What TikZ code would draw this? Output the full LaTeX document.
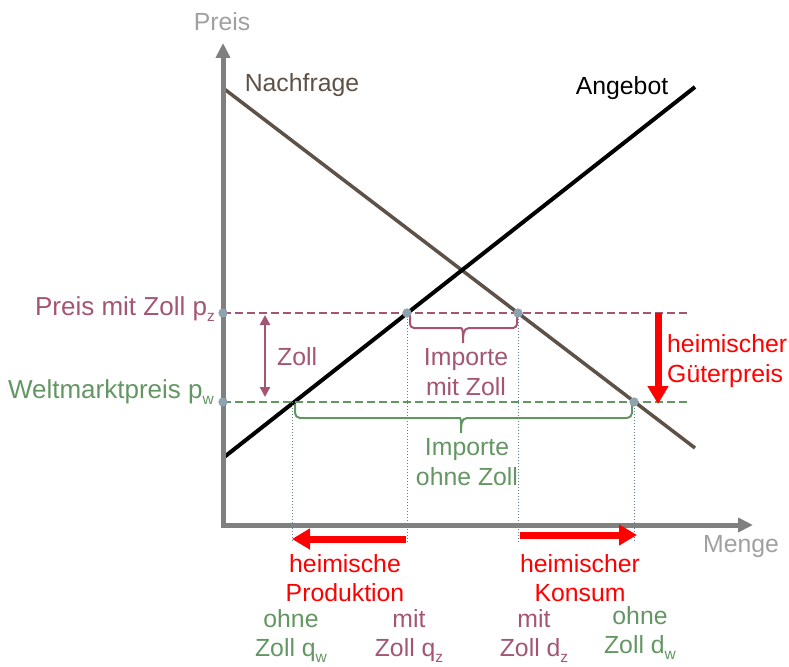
\documentclass[tikz,border=0pt]{standalone}
\usepackage{fontspec}
\setmainfont{Liberation Sans}
\usetikzlibrary{arrows.meta}
\definecolor{mauve}{RGB}{163,85,115}
\definecolor{grn}{RGB}{100,150,100}
\definecolor{axisgray}{RGB}{128,128,128}
\definecolor{lblgray}{RGB}{160,160,160}
\definecolor{dem}{RGB}{94,82,72}
\definecolor{dotc}{RGB}{143,162,176}
\definecolor{vline}{RGB}{95,125,155}
\newcommand\sub[1]{\raisebox{-0.25em}{\fontsize{15.5}{15.5}\selectfont #1}}
\begin{document}
\begin{tikzpicture}[x=1pt,y=-1pt,
  txt/.style={font=\fontsize{24.8}{29.5}\selectfont, inner sep=0pt, align=center},
  lbl/.style={font=\fontsize{24.8}{29}\selectfont, inner sep=0pt},
  axisline/.style={axisgray, line width=5pt, -{Triangle[width=14pt,length=15pt]}},
  hline/.style={dash pattern=on 8pt off 4pt, line width=2pt},
  pt/.style={circle, fill=dotc, inner sep=0pt, minimum size=9pt},
  drop/.style={vline, dotted, line width=1pt},
  redarrow/.style={red, line width=7pt, -{Triangle[width=20pt,length=18pt]}},
  bracestyle/.style={line width=2pt}]
\useasboundingbox (0,0) rectangle (789,666);

% coordinates
\coordinate (O) at (223,525);
\coordinate (ytop) at (223,43);
\coordinate (xend) at (753,525);
\coordinate (d1) at (223,88);
\coordinate (d2) at (695,448);
\coordinate (s1) at (223,458);
\coordinate (s2) at (695,87);
\coordinate (pzE) at (690,313);
\coordinate (pwE) at (690,402);
\coordinate (qwb) at (292,543);
\coordinate (qzb) at (407,543);
\coordinate (dzb) at (518,543);
\coordinate (dwb) at (634,543);
\coordinate (qwt) at (292,402);

% curves
\draw[dem, line width=3.5pt] (d1) -- (d2);
\draw[black, line width=4pt] (s1) -- (s2);

% points
\node[pt] (pz) at (223,313) {};
\node[pt] (pw) at (223,402) {};
\node[pt] (qz) at (407,313) {};
\node[pt] (dz) at (518,313) {};
\node[pt] (dw) at (634,402) {};

% price lines
\draw[mauve, hline] (pz.center) -- (pzE);
\draw[grn, hline] (pw.center) -- (pwE);

% drop lines
\draw[drop] (qwt) -- (qwb);
\draw[drop] (qz.center) -- (qzb);
\draw[drop] (dz.center) -- (dzb);
\draw[drop] (dw.center) -- (dwb);

% braces
\draw[mauve, bracestyle] (410,315) [rounded corners=4pt] -- (410,328) -- (457,328) [sharp corners]
  to[out=0,in=90] (463,343) to[out=90,in=180] (469,328) [rounded corners=4pt] -- (517,328) -- (517,315);
\draw[grn, bracestyle] (295,404) [rounded corners=5pt] -- (295,418) -- (455,418) [sharp corners]
  to[out=0,in=90] (461,433) to[out=90,in=180] (467,418) [rounded corners=5pt] -- (632,418) -- (632,404);

% axes
\draw[axisline] (223,527.5) -- (ytop);
\draw[axisline] (220.5,525) -- (xend);

% redraw points on top of axis
\node[pt] at (pz) {};
\node[pt] at (pw) {};
\node[pt] at (qz) {};
\node[pt] at (dz) {};
\node[pt] at (dw) {};

% Zoll arrow
\draw[mauve, line width=2.5pt, {Triangle[width=10pt,length=10pt]}-{Triangle[width=10pt,length=10pt]}] (265,315) -- (265,397);

% red arrows
\draw[redarrow] (658,313) -- (658,404);
\draw[redarrow] (406,539) -- (292,539);
\draw[redarrow] (520,535) -- (637,535);

% labels
\node[lbl, lblgray] (preis) at (222,22) {Preis};
\node[lbl, lblgray] (menge) at (741,547) {Menge};
\node[lbl, dem] (nachfrage) at (302,85) {Nachfrage};
\node[lbl] (angebot) at (622,88) {Angebot};
\node[lbl, mauve, anchor=base east, font=\fontsize{26}{29}\selectfont] (pzl) at (215,315) {Preis mit Zoll p\sub{z}};
\node[lbl, grn, anchor=base east, font=\fontsize{26}{29}\selectfont] (pwl) at (214,398) {Weltmarktpreis p\sub{w}};
\node[lbl, mauve, anchor=west] (zoll) at (277,357) {Zoll};
\node[txt, mauve] (imz) at (466,372) {Importe\\mit Zoll};
\node[txt, grn] (ioz) at (467,462) {Importe\\ohne Zoll};
\node[txt, red, align=left, anchor=west] (gp) at (667,361) {heimischer\\Güterpreis};
\node[txt, red] (prod) at (345,578) {heimische\\Produktion};
\node[txt, red] (kons) at (580,578) {heimischer\\Konsum};
\node[txt, grn] (lqw) at (291,636) {ohne\\Zoll q\sub{w}};
\node[txt, mauve] (lqz) at (409,636) {mit\\Zoll q\sub{z}};
\node[txt, mauve] (ldz) at (534,636) {mit\\Zoll d\sub{z}};
\node[txt, grn] (ldw) at (640,633) {ohne\\Zoll d\sub{w}};
\end{tikzpicture}
\end{document}
